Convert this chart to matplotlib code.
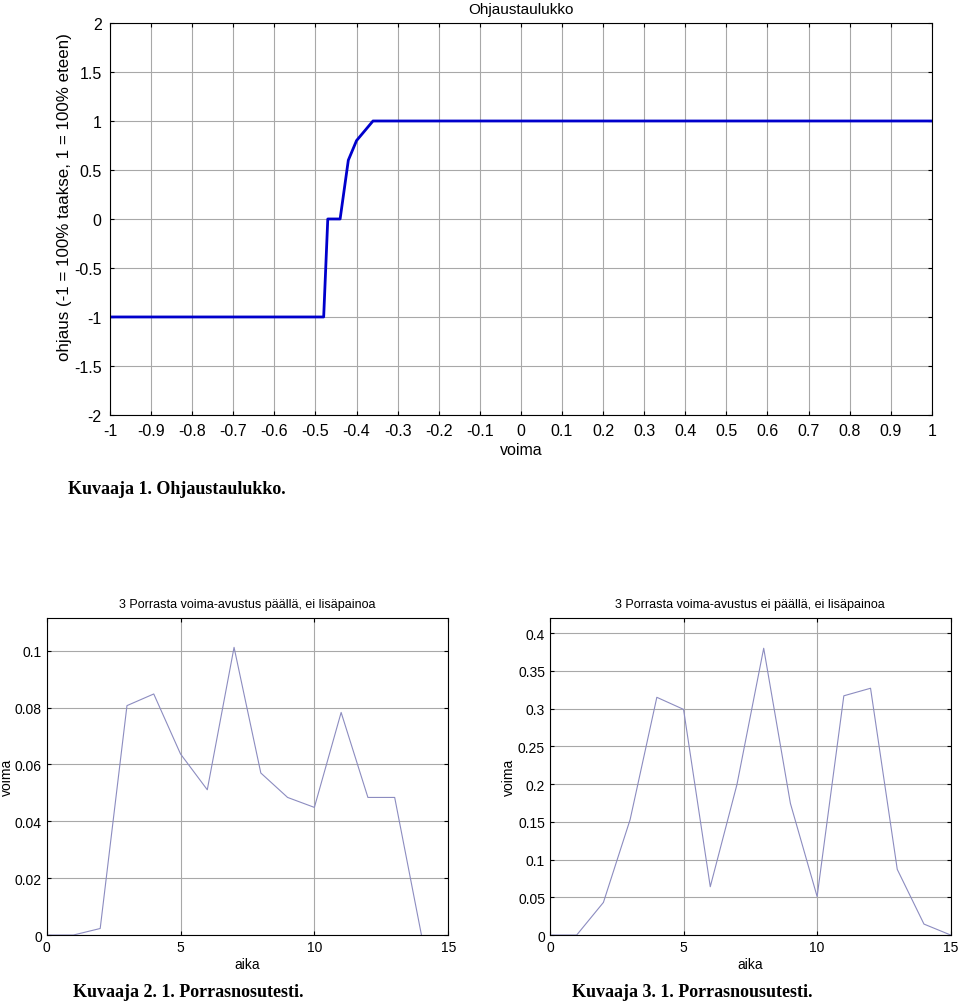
import numpy as np
import matplotlib
matplotlib.use('Agg')
import matplotlib.pyplot as plt
from matplotlib.ticker import FuncFormatter

plt.rcParams['font.family'] = ['Liberation Sans', 'DejaVu Sans']

# Ohjaustaulukko
voima = [-1.0, -0.48, -0.47, -0.44, -0.42, -0.40, -0.36, 1.0]
ohjaus = [-1.0, -1.0, 0.0, 0.0, 0.6, 0.8, 1.0, 1.0]

# Porrasnosutesti, voima-avustus päällä
aika1 = [0, 1, 2, 3, 4, 5, 6, 7, 8, 9, 10, 11, 12, 13, 14]
voima1 = [0, 0, 0.0023, 0.0807, 0.0848, 0.0637, 0.0511, 0.1012, 0.057,
          0.0484, 0.0449, 0.0783, 0.0484, 0.0484, 0]

# Porrasnousutesti, voima-avustus ei päällä
aika2 = [0, 1, 2, 3, 4, 5, 6, 7, 8, 9, 10, 11, 12, 13, 14, 15]
voima2 = [0, 0, 0.0432, 0.153, 0.315, 0.299, 0.064, 0.1996, 0.380, 0.1744,
          0.051, 0.317, 0.327, 0.087, 0.0145, 0]

fmt = FuncFormatter(lambda v, p: '%g' % (round(v, 4) + 0.0))
gridkw = dict(color='#a8a8a8', linewidth=0.8)

fig = plt.figure(figsize=(9.6, 10.04), dpi=100)

# top chart
ax = fig.add_axes([0.1146, 0.5857, 0.856, 0.3904])
ax.plot(voima, ohjaus, color='#0000cc', linewidth=2.0)
ax.set_xlim(-1, 1)
ax.set_ylim(-2, 2)
ax.set_xticks(np.round(np.arange(-1, 1.01, 0.1), 1))
ax.set_yticks(np.arange(-2, 2.01, 0.5))
ax.xaxis.set_major_formatter(fmt)
ax.yaxis.set_major_formatter(fmt)
ax.grid(True, **gridkw)
ax.tick_params(direction='in', top=True, right=True, labelsize=11.5, length=3)
ax.tick_params(axis='x', pad=6)
ax.tick_params(axis='y', pad=6)
ax.set_title('Ohjaustaulukko', fontsize=11, pad=7)
ax.set_xlabel('voima', fontsize=11.5, labelpad=3)
ax.set_ylabel('ohjaus (-1 = 100% taakse, 1 = 100% eteen)', fontsize=12.2)
ax.yaxis.set_label_coords(-0.046, 0.559)
fig.text(68 / 960, 1 - 490 / 1004, 'Kuvaaja 1. Ohjaustaulukko.', fontsize=13,
         fontweight='bold', family='Liberation Serif', va='center')

# bottom left
ax1 = fig.add_axes([0.0486, 0.0677, 0.4183, 0.3157])
ax1.plot(aika1, voima1, color='#8c8cc0', linewidth=0.8)
ax1.set_xlim(0, 15)
ax1.set_ylim(0, 0.1115)
ax1.set_xticks([0, 5, 10, 15])
ax1.set_yticks([0, 0.02, 0.04, 0.06, 0.08, 0.1])
ax1.yaxis.set_major_formatter(fmt)
ax1.grid(True, **gridkw)
ax1.tick_params(direction='in', top=True, right=True, labelsize=10, length=3)
ax1.set_title('3 Porrasta voima-avustus päällä, ei lisäpainoa', fontsize=9, pad=8)
ax1.set_xlabel('aika', fontsize=10, labelpad=2)
ax1.set_ylabel('voima', fontsize=10)
ax1.yaxis.set_label_coords(-0.081, 0.5)
fig.text(73 / 960, 1 - 993 / 1004, 'Kuvaaja 2. 1. Porrasnosutesti.', fontsize=13,
         fontweight='bold', family='Liberation Serif', va='center')

# bottom right
ax2 = fig.add_axes([0.5729, 0.0677, 0.4174, 0.3157])
ax2.plot(aika2, voima2, color='#8c8cc0', linewidth=0.8)
ax2.set_xlim(0, 15)
ax2.set_ylim(0, 0.42)
ax2.set_xticks([0, 5, 10, 15])
ax2.set_yticks(np.arange(0, 0.401, 0.05))
ax2.yaxis.set_major_formatter(fmt)
ax2.grid(True, **gridkw)
ax2.tick_params(direction='in', top=True, right=True, labelsize=10, length=3)
ax2.set_title('3 Porrasta voima-avustus ei päällä, ei lisäpainoa', fontsize=9, pad=8)
ax2.set_xlabel('aika', fontsize=10, labelpad=2)
ax2.set_ylabel('voima', fontsize=10)
ax2.yaxis.set_label_coords(-0.085, 0.5)
fig.text(572 / 960, 1 - 993 / 1004, 'Kuvaaja 3. 1. Porrasnousutesti.', fontsize=13,
         fontweight='bold', family='Liberation Serif', va='center')

fig.savefig('out.png', dpi=100)
